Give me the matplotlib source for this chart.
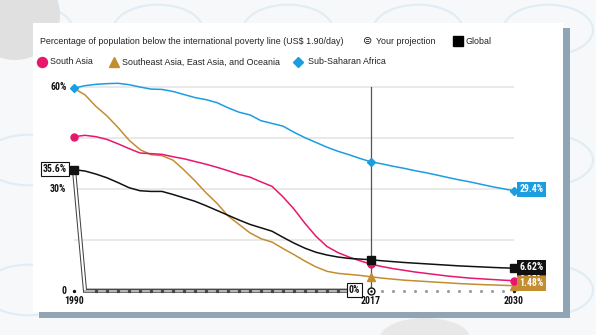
import matplotlib
matplotlib.use('Agg')
import matplotlib.pyplot as plt
from matplotlib.patches import Rectangle, Circle, Ellipse
from matplotlib.lines import Line2D

# ---------------- data ----------------
years_hist = list(range(1990, 2018))
years_proj = list(range(2017, 2031))

south_asia_hist = [45.3, 45.7, 45.3, 44.5, 43.2, 41.8, 40.5, 40.3, 40.1, 39.4,
                   38.8, 38.0, 37.2, 36.3, 35.3, 34.2, 33.4, 32.0, 30.7, 27.6,
                   24.0, 19.8, 16.0, 13.0, 11.2, 9.9, 8.8, 7.8]
south_asia_proj = [7.8, 7.1, 6.5, 6.0, 5.5, 5.1, 4.7, 4.3, 4.0, 3.7, 3.5, 3.3, 3.1, 2.95]

se_asia_hist = [59.5, 57.6, 54.2, 51.4, 48.0, 44.3, 41.5, 40.0, 39.7, 38.4,
                35.5, 32.3, 28.8, 25.7, 22.0, 19.5, 17.0, 15.3, 14.3, 12.4,
                10.6, 8.7, 7.0, 5.7, 5.1, 4.8, 4.5, 4.1]
se_asia_proj = [4.1, 3.7, 3.4, 3.1, 2.9, 2.7, 2.5, 2.3, 2.1, 1.95, 1.8, 1.7, 1.58, 1.48]

ssa_hist = [59.6, 60.3, 60.7, 60.9, 61.0, 60.6, 59.9, 59.3, 59.2, 58.6,
            57.7, 56.8, 56.2, 55.3, 53.8, 52.5, 51.7, 50.0, 49.2, 48.4,
            46.6, 45.0, 43.6, 42.2, 41.0, 40.0, 38.9, 37.9]
ssa_proj = [37.9, 37.3, 36.6, 36.0, 35.3, 34.7, 34.0, 33.3, 32.6, 32.0, 31.3, 30.6, 30.0, 29.4]

global_hist = [35.6, 35.2, 34.3, 33.2, 31.8, 30.3, 29.4, 29.2, 29.2, 28.3,
               27.3, 26.3, 25.0, 23.6, 22.2, 20.8, 19.5, 18.5, 17.5, 15.7,
               14.0, 12.5, 11.3, 10.5, 9.9, 9.5, 9.3, 9.1]
global_proj = [9.1, 8.8, 8.55, 8.3, 8.1, 7.9, 7.7, 7.5, 7.3, 7.15, 7.0, 6.85, 6.72, 6.62]

user_years = [1990, 1991, 2016]
user_values = [35.6, 0, 0]

end_labels = ["29.4%", "6.62%", "2.95%", "1.48%"]
start_label = "35.6%"
user_label = "0%"
x_ticks = [1990, 2017, 2030]
y_ticks = [0, 30, 60]
y_ticklabels = ["0", "30%", "60%"]
grid_values = [15, 30, 45, 60]

title = "Percentage of population below the international poverty line (US$ 1.90/day)"
names = ["South Asia", "Southeast Asia, East Asia, and Oceania", "Sub-Saharan Africa",
         "Your projection", "Global"]

C_PINK = "#e8166d"
C_GOLD = "#c48d2f"
C_BLUE = "#1b9de0"
C_BLACK = "#111111"

W, H = 596, 335
fig = plt.figure(figsize=(W / 100, H / 100), dpi=100)
fig.patch.set_facecolor("#f6f8f9")


def P(x, y):
    return x / W, 1 - y / H


# ---------------- background decoration ----------------
for cx in [28, 158, 288, 418, 548]:
    for cy in [30, 160, 290]:
        fig.add_artist(Circle(P(cx, cy), 45 / W, transform=fig.transFigure,
                              fill=False, ec="#e0edf4", lw=1.5, zorder=0))
fig.add_artist(Ellipse(P(15, 15), 90 / W, 90 / H, transform=fig.transFigure,
                       fc="#e0e0e0", ec="none", zorder=0.5))
fig.add_artist(Ellipse(P(425, 338), 90 / W, 40 / H, transform=fig.transFigure,
                       fc="#e8e8e8", ec="none", zorder=0.5))

# card shadow & card
sx, sy = P(39, 318)
fig.add_artist(Rectangle((sx, sy), (570 - 39) / W, (318 - 28) / H,
                         transform=fig.transFigure, fc="#8fa5b5", ec="none", zorder=1))
cx0, cy0 = P(33, 312)
fig.add_artist(Rectangle((cx0, cy0), (563 - 33) / W, (312 - 23) / H,
                         transform=fig.transFigure, fc="white", ec="none", zorder=2))

# ---------------- axes ----------------
x_left, x_right = 74, 514
y_zero, y_top = 290.7, 86.7
ax = fig.add_axes([x_left / W, 1 - y_zero / H, (x_right - x_left) / W, (y_zero - y_top) / H])
ax.set_zorder(3)
ax.patch.set_visible(False)
ax.set_xlim(1990, 2030)
ax.set_ylim(0, 60)
for s in ax.spines.values():
    s.set_visible(False)
ax.set_xticks([])
ax.set_yticks([])

num_font = dict(family="Roboto Condensed", weight="bold", size=7.0)

for g in grid_values:
    ax.plot([1990, 2030], [g, g], color="#e3e3e3", lw=1.1, zorder=1, clip_on=False,
            solid_capstyle="butt")

# vertical 2017 line
ax.plot([2017, 2017], [0, 60], color="#555555", lw=0.9, zorder=2, clip_on=False)

# user projection (hollow line)
ax.plot(user_years, user_values, color="#444444", lw=3.0, zorder=3, clip_on=False,
        solid_joinstyle="miter")
ax.plot(user_years[:2], user_values[:2], color="white", lw=1.5, zorder=3.1, clip_on=False)
ax.plot(user_years[1:], user_values[1:], color="#b5b5b5", lw=1.5, zorder=3.1, clip_on=False)
ax.plot(list(range(1992, 2016)), [0] * 24, ls="none", marker="s", ms=1.3,
        color="#444444", zorder=3.2, clip_on=False)

# dots after 2017
ax.plot(list(range(2018, 2030)), [0] * 12, ls="none", marker="o", ms=2.2,
        color="#9a9a9a", mec="none", zorder=3, clip_on=False)
ax.plot([1990, 2030], [0, 0], ls="none", marker="o", ms=2.4, color="#111",
        mec="none", zorder=3, clip_on=False)

# series
series = [
    (global_hist, global_proj, C_BLACK, "s", 5.2),
    (se_asia_hist, se_asia_proj, C_GOLD, "^", 5.5),
    (south_asia_hist, south_asia_proj, C_PINK, "o", 5.0),
    (ssa_hist, ssa_proj, C_BLUE, "D", 4.2),
]
order_z = {C_BLACK: 4.4, C_GOLD: 4.1, C_PINK: 4.2, C_BLUE: 4.3}
for hist, proj, col, mk, ms in series:
    z = order_z[col]
    ax.plot(years_hist, hist, color=col, lw=1.1, zorder=z, clip_on=False)
    ax.plot(years_proj, proj, color=col, lw=1.1, zorder=z, clip_on=False)
    ax.plot([years_proj[0], years_proj[-1]], [proj[0], proj[-1]], ls="none",
            marker=mk, ms=ms, color=col, mec=col, zorder=z + 1, clip_on=False)

# start markers
ax.plot([1990], [south_asia_hist[0]], marker="o", ms=5.0, color=C_PINK, zorder=5, clip_on=False)
ax.plot([1990], [ssa_hist[0]], marker="D", ms=4.2, color=C_BLUE, zorder=5.5, clip_on=False)
ax.plot([1990], [global_hist[0]], marker="s", ms=5.2, color=C_BLACK, zorder=5.5, clip_on=False)

# 2017 user marker
ax.plot([2017], [0], marker="o", ms=5.0, mfc="white", mec="#111", mew=1.0, zorder=6, clip_on=False)
ax.plot([2017], [0], marker="o", ms=1.8, color="#111", mec="none", zorder=6.1, clip_on=False)

# end labels
lab_specs = [
    (ssa_proj[-1], end_labels[0], C_BLUE, 7, 1.0),
    (south_asia_proj[-1], end_labels[2], C_PINK, 7.1, 0.5),
    (global_proj[-1], end_labels[1], C_BLACK, 7.3, 0.6),
    (se_asia_proj[-1], end_labels[3], C_GOLD, 7.4, 1.6),
]
for val, txt, col, z, dy in lab_specs:
    ax.annotate(txt, xy=(2030, val), xytext=(4.0, dy), textcoords="offset points",
                ha="left", va="center", color="white", zorder=z, annotation_clip=False,
                bbox=dict(boxstyle="square,pad=0.25", fc=col, ec="none"), **num_font)

ax.annotate(start_label, xy=(1990, global_hist[0]), xytext=(-14, 0.5), textcoords="offset points",
            ha="center", va="center", color="#111", zorder=7, annotation_clip=False,
            bbox=dict(boxstyle="square,pad=0.2", fc="white", ec="#111", lw=0.8), **num_font)
ax.annotate(user_label, xy=(2015.5, 0), xytext=(0, 0.5), textcoords="offset points",
            ha="center", va="center", color="#111", zorder=7, annotation_clip=False,
            bbox=dict(boxstyle="square,pad=0.2", fc="white", ec="#111", lw=0.8), **num_font)

# tick labels
for v, t in zip(y_ticks, y_ticklabels):
    ax.annotate(t, xy=(1990, v), xytext=(-5.5, 0), textcoords="offset points",
                ha="right", va="center", color="#111", annotation_clip=False, **num_font)
for yv in x_ticks:
    ax.annotate(str(yv), xy=(yv, 0), xytext=(0, -7.3), textcoords="offset points",
                ha="center", va="center", color="#111", annotation_clip=False, **num_font)

# ---------------- title & legend ----------------
txt_font = dict(family="Liberation Sans", size=6.4, color="#222")
fig.text(*P(40, 41), title, ha="left", va="center", zorder=10, **txt_font)

fig.text(*P(368, 41.5), "\u229c", ha="center", va="center", zorder=10,
         family="DejaVu Sans", size=8, color="#222")
fig.text(*P(376, 41), names[3], ha="left", va="center", zorder=10, **txt_font)
fig.add_artist(Line2D([457.7 / W], [1 - 40.5 / H], transform=fig.transFigure, marker="s",
                      ms=7.2, color="black", ls="none", zorder=10))
fig.text(*P(466, 41), names[4], ha="left", va="center", zorder=10, **txt_font)

leg2 = [(42.3, 50, C_PINK, "o", 7.2, names[0]),
        (114.3, 122.5, C_GOLD, "^", 7.6, names[1]),
        (297.5, 307.7, C_BLUE, "D", 5.5, names[2])]
for mx, tx, col, mk, ms, nm in leg2:
    fig.add_artist(Line2D([mx / W], [1 - 62 / H], transform=fig.transFigure, marker=mk,
                          ms=ms, color=col, ls="none", zorder=10))
    fig.text(*P(tx, 62), nm, ha="left", va="center", zorder=10, **txt_font)

fig.savefig("out.png", dpi=100, facecolor=fig.get_facecolor())
